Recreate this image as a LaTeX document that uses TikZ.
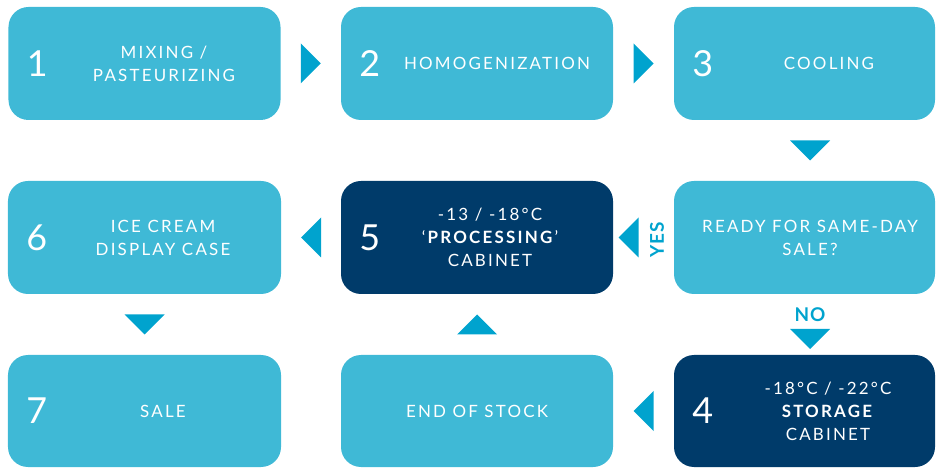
\documentclass[tikz,border=0pt]{standalone}
\usepackage{fontspec}
\setmainfont{Lato}
\newfontfamily\spacedfont[LetterSpace=13]{Lato}
\newfontfamily\tagfont[LetterSpace=4]{Lato}
\usetikzlibrary{calc}
\definecolor{boxlight}{HTML}{3FB9D6}
\definecolor{boxdark}{HTML}{003B6A}
\definecolor{tricol}{HTML}{00A3CE}

\begin{document}
\begin{tikzpicture}[x=1bp, y=-1bp,
	box/.style={fill=boxlight, rounded corners=20bp, minimum width=272bp, minimum height=113bp, inner sep=0pt},
	darkbox/.style={box, fill=boxdark},
	num/.style={text=white, font=\fontsize{36}{36}\selectfont},
	txt/.style={text=white, align=center, font=\spacedfont\fontsize{17}{23}\selectfont},
	tri/.style={fill=tricol},
	tag/.style={text=tricol, font=\tagfont\bfseries\fontsize{19}{19}\selectfont}]
	\useasboundingbox (0,0) rectangle (936,468);
	% boxes
	\node[box] (b1) at (144.5,63.5) {};
	\node[box] (b2) at (477,63.5) {};
	\node[box, minimum width=261bp] (b3) at (804.5,63.5) {};
	\node[box, minimum width=261bp] (ready) at (804.5,237.5) {};
	\node[darkbox] (b5) at (477,237.5) {};
	\node[box, minimum width=273bp] (b6) at (144.5,237.5) {};
	\node[box, minimum width=273bp, minimum height=112bp] (b7) at (144.5,411) {};
	\node[box, minimum height=112bp] (stock) at (477,411) {};
	\node[darkbox, minimum width=261bp, minimum height=112bp] (b4) at (804.5,411) {};
	% numbers
	\node[num] (n1) at ([xshift=29bp]b1.west) {1};
	\node[num] (n2) at ([xshift=29bp]b2.west) {2};
	\node[num] (n3) at ([xshift=29bp]b3.west) {3};
	\node[num] (n5) at ([xshift=29bp]b5.west) {5};
	\node[num] (n6) at ([xshift=29bp]b6.west) {6};
	\node[num] (n7) at ([xshift=29bp]b7.west) {7};
	\node[num] (n4) at ([xshift=29bp]b4.west) {4};
	% texts
	\node[txt] (t1) at ([xshift=19.5bp]b1.center) {MIXING /\\PASTEURIZING};
	\node[txt] (t2) at ([xshift=20bp]b2.center) {HOMOGENIZATION};
	\node[txt] (t3) at ([xshift=24.5bp]b3.center) {COOLING};
	\node[txt] (tready) at ([xshift=5.5bp]ready.center) {READY FOR SAME-DAY\\SALE?};
	\node[txt] (t5) at ([xshift=13bp]b5.center) {-13 / -18°C\\‘\textbf{PROCESSING}’\\CABINET};
	\node[txt] (t6) at ([xshift=18.5bp]b6.center) {ICE CREAM\\DISPLAY CASE};
	\node[txt] (t7) at ([xshift=18.5bp]b7.center) {SALE};
	\node[txt] (tstock) at (stock.center) {END OF STOCK};
	\node[txt] (t4) at ([xshift=23.5bp]b4.center) {-18°C / -22°C\\\textbf{STORAGE}\\CABINET};
	% arrows
	\fill[tri] ($(b1.east)!.5!(b2.west)$) +(-10,-20) -- +(10,0) -- +(-10,20) -- cycle;
	\fill[tri] ($(b2.east)!.5!(b3.west)$) +(-10,-20) -- +(10,0) -- +(-10,20) -- cycle;
	\fill[tri] ($(b3.south)!.5!(ready.north)+(5.5,0)$) +(-20,-10) -- +(20,-10) -- +(0,10) -- cycle;
	\fill[tri] ($(ready.west)!.5!(b5.east)+(-15,0)$) +(10,-20) -- +(10,20) -- +(-10,0) -- cycle;
	\node[tag, rotate=90] (yes) at ($(ready.west)!.5!(b5.east)+(13.5,2.5)$) {YES};
	\fill[tri] ($(b5.west)!.5!(b6.east)$) +(10,-20) -- +(10,20) -- +(-10,0) -- cycle;
	\fill[tri] ($(b6.south)!.5!(b7.north)$) +(-20,-10) -- +(20,-10) -- +(0,10) -- cycle;
	\node[tag] (no) at ($(ready.south)!.5!(b4.north)+(5.5,-9.5)$) {NO};
	\fill[tri] ($(ready.south)!.5!(b4.north)+(5.5,14.5)$) +(-20,-10) -- +(20,-10) -- +(0,10) -- cycle;
	\fill[tri] ($(b4.west)!.5!(stock.east)$) +(10,-20) -- +(10,20) -- +(-10,0) -- cycle;
	\fill[tri] ($(stock.north)!.5!(b5.south)$) +(-20,10) -- +(20,10) -- +(0,-10) -- cycle;
\end{tikzpicture}
\end{document}
